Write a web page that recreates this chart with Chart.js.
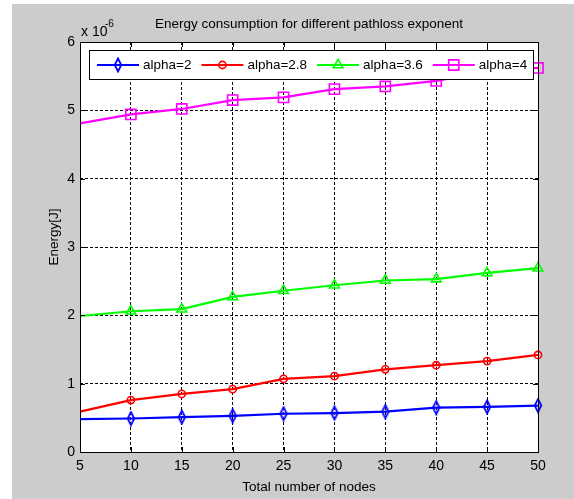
<!DOCTYPE html>
<html>
<head>
<meta charset="utf-8">
<script src="https://cdn.jsdelivr.net/npm/chart.js@4.4.1/dist/chart.umd.min.js"></script>
<style>
  html, body { margin: 0; padding: 0; background: #ffffff; }
  canvas { display: block; }
</style>
</head>
<body>
<canvas id="chart" width="574" height="499"></canvas>
<script>
// Total number of nodes in the network
const nodes = [5, 10, 15, 20, 25, 30, 35, 40, 45, 50];

// Energy consumption (x 10^-6 J) for each pathloss exponent
const alpha2  = [0.48, 0.49, 0.51, 0.53, 0.56, 0.57, 0.59, 0.65, 0.66, 0.68];
const alpha28 = [0.59, 0.76, 0.85, 0.92, 1.07, 1.11, 1.21, 1.27, 1.33, 1.42];
const alpha36 = [1.99, 2.06, 2.09, 2.27, 2.36, 2.44, 2.51, 2.53, 2.62, 2.69];
const alpha4  = [4.81, 4.94, 5.02, 5.15, 5.19, 5.31, 5.35, 5.43, 5.57, 5.62];

const seriesLabels = ['alpha=2', 'alpha=2.8', 'alpha=3.6', 'alpha=4'];
const seriesColors = ['#0000ff', '#ff0000', '#00ff00', '#ff00ff'];

const titleText = 'Energy consumption for different pathloss exponent';
const xTitle = 'Total number of nodes';
const yTitle = 'Energy[J]';

const FONT = '"Liberation Sans", Arial, sans-serif';
const TEXT_SIZE = 13.5;
const TICK_SIZE = 14;

// Narrow diamond marker
function makeDiamond(color) {
  const c = document.createElement('canvas');
  c.width = 10; c.height = 16;
  const g = c.getContext('2d');
  g.strokeStyle = color;
  g.lineWidth = 1.8;
  g.beginPath();
  g.moveTo(5, 1.5); g.lineTo(8.3, 8); g.lineTo(5, 14.5); g.lineTo(1.7, 8); g.closePath();
  g.stroke();
  return c;
}

const pts = arr => nodes.map((n, i) => ({ x: n, y: arr[i] }));
// first sample is drawn without a marker
const markerRadius = r => nodes.map((n, i) => (i === 0 ? 0 : r));

const styles = [
  { pointStyle: makeDiamond(seriesColors[0]), r: 5 },
  { pointStyle: 'circle', r: 3.6 },
  { pointStyle: 'triangle', r: 5.6 },
  { pointStyle: 'rect', r: 7.2 }
];
const seriesData = [alpha2, alpha28, alpha36, alpha4];

const datasets = seriesData.map((arr, k) => ({
  label: seriesLabels[k],
  data: pts(arr),
  borderColor: seriesColors[k],
  backgroundColor: 'rgba(0,0,0,0)',
  borderWidth: 2.2,
  pointStyle: styles[k].pointStyle,
  pointRadius: markerRadius(styles[k].r),
  pointBorderColor: seriesColors[k],
  pointBackgroundColor: 'rgba(0,0,0,0)',
  pointBorderWidth: 1.6,
  tension: 0,
  clip: false
}));

// Figure background and white axes area
const backdrop = {
  id: 'backdrop',
  beforeDraw(chart) {
    const { ctx, chartArea: a } = chart;
    ctx.save();
    ctx.fillStyle = '#cccccc';
    ctx.fillRect(12, 4, chart.width - 12, chart.height - 4);
    ctx.fillStyle = '#ffffff';
    ctx.fillRect(a.left, a.top, a.right - a.left, a.bottom - a.top);
    ctx.restore();
  }
};

// Box frame, inward ticks, titles, exponent note and legend
const decorations = {
  id: 'decorations',
  afterDatasetsDraw(chart) {
    const { ctx, chartArea: a, scales } = chart;
    const xs = scales.x, ys = scales.y;
    ctx.save();

    // inward tick marks on all four sides
    ctx.strokeStyle = '#000';
    ctx.lineWidth = 1;
    const tl = 5;
    ctx.beginPath();
    xs.ticks.forEach(t => {
      const px = Math.round(xs.getPixelForValue(t.value)) + 0.5;
      ctx.moveTo(px, a.bottom); ctx.lineTo(px, a.bottom - tl);
      ctx.moveTo(px, a.top); ctx.lineTo(px, a.top + tl);
    });
    ys.ticks.forEach(t => {
      const py = Math.round(ys.getPixelForValue(t.value)) + 0.5;
      ctx.moveTo(a.left, py); ctx.lineTo(a.left + tl, py);
      ctx.moveTo(a.right, py); ctx.lineTo(a.right - tl, py);
    });
    ctx.stroke();

    // legend box
    const lx = 89, ly = 50, lw = 444, lh = 29;
    ctx.fillStyle = '#ffffff';
    ctx.fillRect(lx, ly, lw, lh);
    ctx.strokeStyle = '#000';
    ctx.strokeRect(lx + 0.5, ly + 0.5, lw, lh);
    ctx.font = TEXT_SIZE + 'px ' + FONT;
    ctx.textBaseline = 'middle';
    ctx.textAlign = 'left';
    let cx = 97;
    const cy = ly + lh / 2 + 0.5;
    chart.data.datasets.forEach((ds, k) => {
      ctx.strokeStyle = ds.borderColor;
      ctx.lineWidth = ds.borderWidth;
      ctx.beginPath();
      ctx.moveTo(cx, cy); ctx.lineTo(cx + 42, cy);
      ctx.stroke();
      ctx.fillStyle = 'rgba(0,0,0,0)';
      ctx.lineWidth = ds.pointBorderWidth;
      Chart.helpers.drawPoint(ctx, {
        pointStyle: ds.pointStyle,
        radius: styles[k].r,
        rotation: 0,
        borderWidth: ds.pointBorderWidth
      }, cx + 21, cy);
      ctx.fillStyle = '#000';
      ctx.fillText(ds.label, cx + 46, cy);
      cx += 46 + ctx.measureText(ds.label).width + 10;
    });

    ctx.restore();
  },
  afterDraw(chart) {
    const { ctx, chartArea: a } = chart;
    ctx.save();
    // frame
    ctx.strokeStyle = '#000';
    ctx.lineWidth = 1;
    ctx.strokeRect(Math.round(a.left) + 0.5, Math.round(a.top) + 0.5,
                   Math.round(a.right - a.left), Math.round(a.bottom - a.top));

    ctx.fillStyle = '#000';
    ctx.font = TEXT_SIZE + 'px ' + FONT;
    ctx.textAlign = 'center';
    ctx.textBaseline = 'middle';
    ctx.fillText(titleText, (a.left + a.right) / 2, 24);
    ctx.fillText(xTitle, (a.left + a.right) / 2, 487);

    ctx.save();
    ctx.translate(54, 237);
    ctx.rotate(-Math.PI / 2);
    ctx.fillText(yTitle, 0, 0);
    ctx.restore();

    // scale multiplier
    ctx.textAlign = 'left';
    ctx.textBaseline = 'alphabetic';
    ctx.font = TICK_SIZE + 'px ' + FONT;
    ctx.fillText('x 10', 81, 36);
    ctx.font = '10px ' + FONT;
    ctx.fillText('-6', 105, 27);
    ctx.restore();
  }
};

new Chart(document.getElementById('chart'), {
  type: 'line',
  data: { datasets },
  options: {
    responsive: false,
    animation: false,
    layout: { padding: { left: 0, top: 42, right: 36, bottom: 0 } },
    plugins: {
      legend: { display: false },
      title: { display: false },
      tooltip: { enabled: false }
    },
    scales: {
      x: {
        type: 'linear',
        min: 5, max: 50,
        ticks: {
          stepSize: 5,
          color: '#000',
          padding: 6,
          font: { family: FONT, size: TICK_SIZE }
        },
        grid: { color: '#000', lineWidth: 1, drawTicks: false },
        border: { display: false, dash: [3, 2] },
        afterFit(scale) { scale.height = 47; }
      },
      y: {
        type: 'linear',
        min: 0, max: 6,
        ticks: {
          stepSize: 1,
          color: '#000',
          padding: 5,
          font: { family: FONT, size: TICK_SIZE }
        },
        grid: { color: '#000', lineWidth: 1, drawTicks: false },
        border: { display: false, dash: [3, 2] },
        afterFit(scale) { scale.width = 80; }
      }
    }
  },
  plugins: [backdrop, decorations]
});
</script>
</body>
</html>
